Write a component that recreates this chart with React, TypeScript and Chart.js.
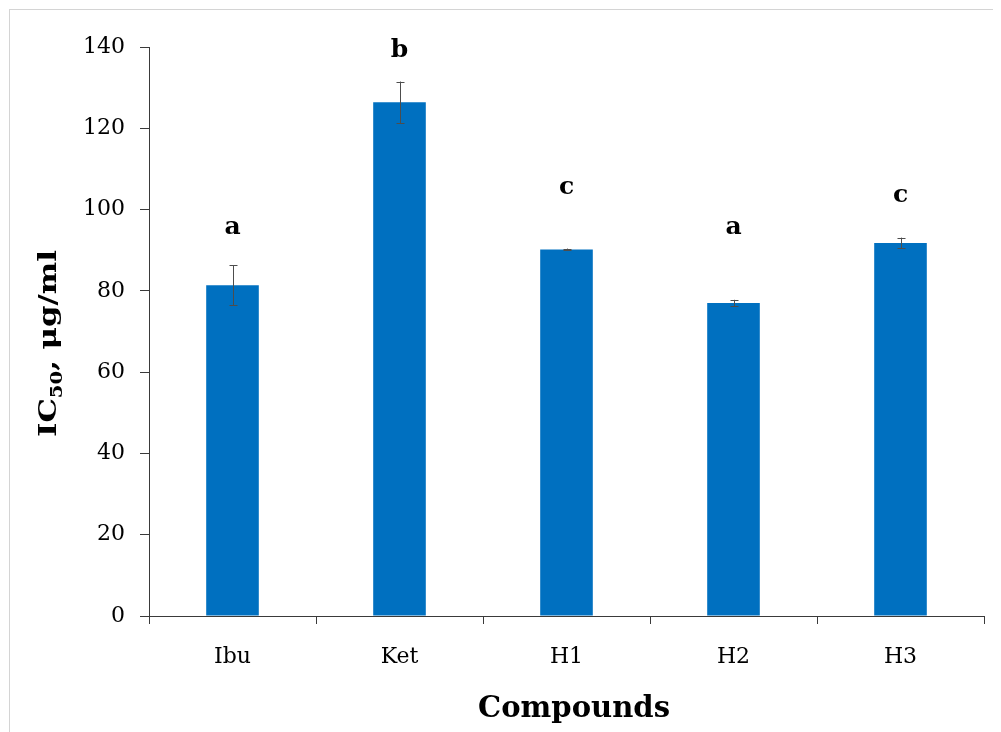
import React, { useEffect, useRef } from "react";
import { Chart, registerables } from "chart.js";

Chart.register(...registerables);

const categories = ["Ibu", "Ket", "H1", "H2", "H3"];
const ic50Values = [81.4, 126.4, 90.2, 77.0, 91.8];
const errorValues = [4.9, 5.1, 0.2, 0.8, 1.3];
const groupLetters = ["a", "b", "c", "a", "c"];
const letterLevels = [94.1, 137.5, 103.9, 94.1, 101.9];
const yMin = 0;
const yMax = 140;
const yStep = 20;

const SERIF = "'DejaVu Serif', serif";

const overlayPlugin = {
  id: "overlay",
  afterDatasetsDraw(chart: any) {
    const ctx = chart.ctx;
    const meta = chart.getDatasetMeta(0);
    const ys = chart.scales.y;
    ctx.save();
    // error bars
    ctx.strokeStyle = "#4d4d4d";
    ctx.lineWidth = 1;
    meta.data.forEach((bar: any, i: number) => {
      const x = Math.round(bar.x) + 0.5;
      const yt = ys.getPixelForValue(ic50Values[i] + errorValues[i]);
      const yb = ys.getPixelForValue(ic50Values[i] - errorValues[i]);
      ctx.beginPath();
      ctx.moveTo(x, yt);
      ctx.lineTo(x, yb);
      ctx.moveTo(x - 4, Math.round(yt) + 0.5);
      ctx.lineTo(x + 4, Math.round(yt) + 0.5);
      ctx.moveTo(x - 4, Math.round(yb) + 0.5);
      ctx.lineTo(x + 4, Math.round(yb) + 0.5);
      ctx.stroke();
    });
    // significance letters
    ctx.fillStyle = "#000";
    ctx.font = `bold 25px ${SERIF}`;
    ctx.textAlign = "center";
    ctx.textBaseline = "alphabetic";
    meta.data.forEach((bar: any, i: number) => {
      ctx.fillText(groupLetters[i], bar.x, ys.getPixelForValue(letterLevels[i]));
    });
    ctx.restore();
  },
  afterDraw(chart: any) {
    const ctx = chart.ctx;
    ctx.save();
    ctx.fillStyle = "#000";
    // y axis title with subscript
    const mainFont = `bold 25px ${SERIF}`;
    const subFont = `bold 16px ${SERIF}`;
    const parts = [
      { t: "IC", f: mainFont, dy: 0 },
      { t: "50", f: subFont, dy: 6 },
      { t: ", μg/ml", f: mainFont, dy: 0 },
    ];
    let total = 0;
    const widths = parts.map((p) => {
      ctx.font = p.f;
      const w = ctx.measureText(p.t).width;
      total += w;
      return w;
    });
    const target = 187;
    const sx = target / total;
    ctx.translate(46, 333.5);
    ctx.rotate(-Math.PI / 2);
    ctx.scale(sx, 1);
    ctx.textAlign = "left";
    ctx.textBaseline = "alphabetic";
    let cx = -total / 2;
    parts.forEach((p, i) => {
      ctx.font = p.f;
      ctx.fillText(p.t, cx, p.dy);
      cx += widths[i];
    });
    ctx.restore();

    // x axis title
    ctx.save();
    ctx.fillStyle = "#000";
    ctx.font = `bold 30px ${SERIF}`;
    const tw = ctx.measureText("Compounds").width;
    const s2 = 192 / tw;
    ctx.translate(564, 706.5);
    ctx.scale(s2, 1);
    ctx.textAlign = "center";
    ctx.textBaseline = "alphabetic";
    ctx.fillText("Compounds", 0, 0);
    ctx.restore();
  },
};

export default function App() {
  const canvasRef = useRef<HTMLCanvasElement | null>(null);

  useEffect(() => {
    document.body.style.overflow = "hidden";
    const canvas = canvasRef.current;
    if (!canvas) return;
    const chart = new Chart(canvas, {
      type: "bar",
      data: {
        labels: categories,
        datasets: [
          {
            data: ic50Values,
            backgroundColor: "#0070C0",
            borderWidth: 0,
            categoryPercentage: 1,
            barPercentage: 0.315,
          },
        ],
      },
      options: {
        responsive: false,
        animation: false,
        events: [],
        layout: { padding: { top: 37, right: 17, left: 0, bottom: 0 } },
        plugins: {
          legend: { display: false },
          tooltip: { enabled: false },
          title: { display: false },
        },
        scales: {
          x: {
            grid: {
              display: true,
              drawOnChartArea: false,
              drawTicks: true,
              tickLength: 8,
              offset: true,
              color: "#3a3a3a",
            },
            border: { display: true, color: "#3a3a3a", width: 1 },
            ticks: {
              color: "#000",
              font: { family: SERIF, size: 22 },
              padding: 20,
              maxRotation: 0,
            },
            afterFit(scale: any) {
              scale.height = 116;
            },
          },
          y: {
            min: yMin,
            max: yMax,
            grid: {
              display: true,
              drawOnChartArea: false,
              drawTicks: true,
              tickLength: 9,
              color: "#3a3a3a",
            },
            border: { display: true, color: "#3a3a3a", width: 1 },
            ticks: {
              stepSize: yStep,
              color: "#000",
              font: { family: SERIF, size: 22 },
              padding: 15,
            },
            afterFit(scale: any) {
              scale.width = 139;
            },
          },
        },
      },
      plugins: [overlayPlugin],
    });
    return () => chart.destroy();
  }, []);

  return (
    <div
      style={{
        marginLeft: 1,
        marginTop: 1,
        borderTop: "1px solid #d4d4d4",
        borderLeft: "1px solid #d4d4d4",
        width: 991,
        height: 722,
      }}
    >
      <canvas ref={canvasRef} width={991} height={722} style={{ display: "block" }} />
    </div>
  );
}
